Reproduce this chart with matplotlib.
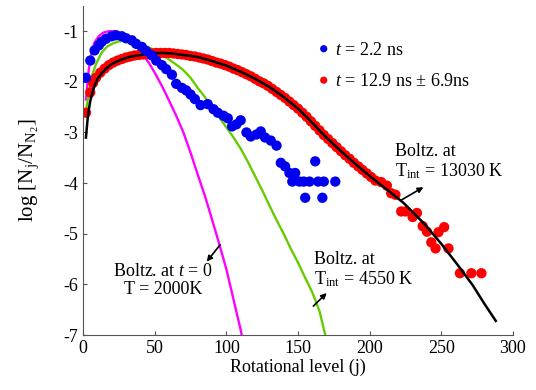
import matplotlib
matplotlib.use('Agg')
import matplotlib.pyplot as plt

plt.rcParams['font.family'] = ['Liberation Serif', 'DejaVu Serif']
plt.rcParams['mathtext.fontset'] = 'custom'
plt.rcParams['mathtext.rm'] = 'Liberation Serif'
plt.rcParams['mathtext.it'] = 'Liberation Serif:italic'
plt.rcParams['axes.unicode_minus'] = False

# t = 2.2 ns measurements
blue_j = [2, 5, 8, 11, 13, 16, 20, 23, 27, 30, 34, 37, 41, 44, 48, 51, 55, 58, 62, 65,
          69, 72, 75, 78, 82, 87, 91, 94, 98, 101, 104, 107, 110, 114, 117, 121, 124, 127,
          131, 135, 138, 141, 144, 148, 146, 151, 154, 158, 162, 164, 168, 176, 155, 167]
blue_v = [-1.92, -1.58, -1.38, -1.28, -1.21, -1.15, -1.10, -1.08, -1.10, -1.14, -1.18, -1.25,
          -1.31, -1.39, -1.48, -1.58, -1.67, -1.75, -1.86, -2.04, -2.12, -2.17, -2.25, -2.34,
          -2.46, -2.44, -2.54, -2.61, -2.67, -2.72, -2.88, -2.84, -2.76, -3.00, -3.08, -3.04,
          -2.98, -3.10, -3.16, -3.26, -3.60, -3.67, -3.80, -3.80, -3.97, -3.97, -3.97, -3.97,
          -3.57, -3.97, -3.97, -3.97, -4.29, -4.29]

# t = 12.9 ns measurements
red_j = [2, 5, 7, 9, 12, 15, 18, 21, 24, 27, 30, 33, 36, 39, 42, 45, 48, 51, 54, 57, 60,
         63, 66, 69, 72, 75, 78, 81, 84, 87, 90, 93, 96, 99, 102, 105, 108, 111, 114, 117,
         120, 123, 126, 129, 132, 135, 138, 141, 144, 147, 150, 153, 156, 159, 162, 165,
         168, 171, 174, 177, 180, 183, 186, 189, 192, 195, 198, 201, 204, 208, 212, 215,
         218, 222, 225, 230, 233, 237, 240, 243, 246, 248, 252, 255, 263, 271, 278]
red_v = [-2.61, -2.21, -2.02, -1.92, -1.82, -1.74, -1.67, -1.62, -1.58, -1.55, -1.52, -1.50,
         -1.48, -1.47, -1.46, -1.45, -1.44, -1.43, -1.43, -1.43, -1.43, -1.44, -1.45, -1.46,
         -1.47, -1.49, -1.50, -1.52, -1.54, -1.56, -1.59, -1.62, -1.64, -1.67, -1.70, -1.74,
         -1.77, -1.81, -1.85, -1.89, -1.94, -1.99, -2.03, -2.08, -2.14, -2.20, -2.26, -2.32,
         -2.39, -2.46, -2.53, -2.61, -2.69, -2.78, -2.87, -2.96, -3.05, -3.13, -3.21, -3.29,
         -3.37, -3.45, -3.52, -3.60, -3.67, -3.74, -3.81, -3.88, -3.95, -3.98, -4.05, -4.20,
         -4.23, -4.56, -4.56, -4.67, -4.59, -4.85, -4.96, -5.17, -5.29, -4.97, -4.87, -5.29,
         -5.78, -5.78, -5.78]

# Boltzmann curves
mag_j = [2, 4, 6, 8, 11, 14, 18, 22, 26, 30, 34, 38, 42, 46, 50, 55, 60, 65, 70, 75, 80,
         85, 90, 95, 100, 105, 110, 111]
mag_v = [-2.35, -1.75, -1.42, -1.22, -1.10, -1.03, -1.00, -1.00, -1.04, -1.11, -1.21, -1.33,
         -1.47, -1.63, -1.82, -2.08, -2.37, -2.67, -3.00, -3.40, -3.83, -4.25, -4.72, -5.20,
         -5.70, -6.30, -6.90, -7.05]

green_j = [2, 4, 6, 9, 13, 17, 21, 25, 30, 35, 40, 45, 50, 55, 60, 65, 70, 75, 80, 85, 90,
           95, 100, 105, 110, 115, 120, 125, 130, 135, 140, 145, 150, 155, 160, 165, 169]
green_v = [-2.60, -2.20, -1.90, -1.65, -1.42, -1.30, -1.24, -1.20, -1.19, -1.21, -1.25, -1.31,
           -1.38, -1.46, -1.56, -1.66, -1.77, -1.92, -2.12, -2.30, -2.50, -2.70, -2.90, -3.10,
           -3.32, -3.58, -3.86, -4.14, -4.44, -4.73, -5.00, -5.30, -5.57, -5.87, -6.16, -6.53,
           -7.00]

black_j = [2, 3, 4, 5, 6.5, 8, 10, 13, 16, 20, 25, 32, 40, 48, 55, 62, 70, 80, 90, 100, 110,
           120, 130, 140, 150, 158, 168, 180, 192, 203, 214, 224, 238, 250, 261, 272, 280, 288]
black_v = [-3.10, -2.78, -2.55, -2.38, -2.21, -2.08, -1.95, -1.83, -1.74, -1.65, -1.58, -1.51,
           -1.47, -1.44, -1.43, -1.44, -1.47, -1.51, -1.59, -1.68, -1.80, -1.94, -2.10, -2.30,
           -2.53, -2.75, -3.05, -3.37, -3.67, -3.93, -4.17, -4.40, -4.80, -5.20, -5.60, -6.02,
           -6.38, -6.72]

fig = plt.figure(figsize=(5.36, 3.9), dpi=100)
ax = fig.add_axes([0.155, 0.141, 0.802, 0.844])

ax.plot(mag_j, mag_v, color='#FF00FF', lw=1.7, zorder=1)
ax.plot(green_j, green_v, color='#66CC00', lw=1.7, zorder=1)
ax.scatter(red_j, red_v, s=55, color='#FF0000', edgecolors='none', zorder=2,
           label=r'$t$ = 12.9 ns $\pm$ 6.9ns')
ax.plot(black_j, black_v, color='black', lw=1.8, zorder=3)
ax.scatter(blue_j, blue_v, s=55, color='#0000EE', edgecolors='none', zorder=4,
           label=r'$t$ = 2.2 ns')

ax.set_xlim(0, 300)
ax.set_ylim(-7, -0.5)
ax.set_xticks(range(0, 301, 50))
ax.set_yticks(range(-7, 0))
ax.spines['top'].set_visible(False)
ax.spines['right'].set_visible(False)
ax.spines['left'].set_color('#555555')
ax.spines['bottom'].set_color('#555555')
ax.tick_params(direction='in', length=3, color='#555555', labelsize=13)
ax.set_xlabel('Rotational level (j)', fontsize=13, labelpad=1)
ax.set_ylabel(r'log [N$_{\mathrm{j}}$/N$_{\mathrm{N_2}}$]', fontsize=15, labelpad=16)

handles, labels = ax.get_legend_handles_labels()
ax.legend(handles[::-1], labels[::-1], loc='upper left', bbox_to_anchor=(0.522, 0.912),
          frameon=False, fontsize=13, handletextpad=0.15, labelspacing=0.8,
          borderaxespad=0, handlelength=1.0, scatteryoffsets=[0.5], markerscale=0.7)

arrow = dict(arrowstyle='-|>', color='black', lw=1.2, shrinkA=0, shrinkB=0,
             mutation_scale=8)

ax.text(55.8, -5.93, 'Boltz. at $t$ = 0\nT = 2000K', ha='center', va='center',
        fontsize=13, linespacing=1.1)
ax.annotate('', xy=(86.3, -5.55), xytext=(95.6, -5.22), arrowprops=arrow)

ax.text(161.5, -5.71, 'Boltz. at\nT$_{\mathrm{int}}$ = 4550 K', ha='left', va='center',
        fontsize=13, linespacing=1.1)
ax.annotate('', xy=(170.0, -6.17), xytext=(160.7, -6.43), arrowprops=arrow)

ax.text(218.0, -3.58, 'Boltz. at\nT$_{\mathrm{int}}$ = 13030 K', ha='left', va='center',
        fontsize=13, linespacing=1.1)
ax.annotate('', xy=(237.5, -4.08), xytext=(222.4, -4.33), arrowprops=arrow)

fig.savefig('out.png', dpi=100)
